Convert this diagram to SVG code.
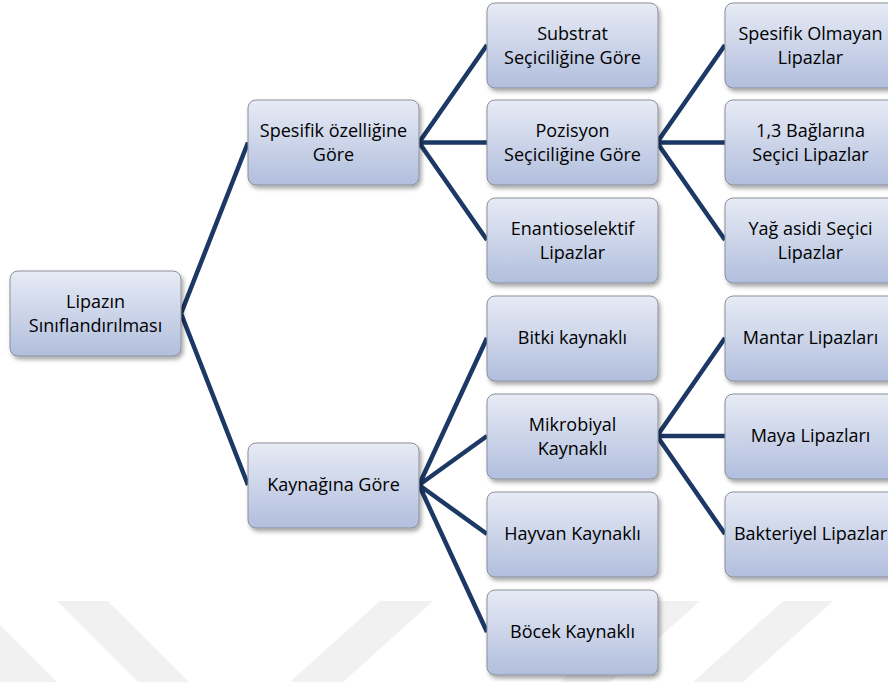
<svg xmlns="http://www.w3.org/2000/svg" width="888" height="682" viewBox="0 0 888 682">
  <defs>
    <linearGradient id="g" x1="0" y1="0" x2="0" y2="1">
      <stop offset="0" stop-color="#E7EBF5"/>
      <stop offset="1" stop-color="#B1BEDD"/>
    </linearGradient>
    <filter id="sh" x="-10%" y="-10%" width="130%" height="130%">
      <feDropShadow dx="2" dy="3" stdDeviation="2" flood-color="#000" flood-opacity="0.35"/>
    </filter>
  </defs>
  <style>
    .box { fill: url(#g); stroke: #8A8F99; stroke-width: 1; filter: url(#sh); }
    .t { font-family: "Open Sans", "Liberation Sans", sans-serif; font-size: 18px; fill: #000; text-anchor: middle; }
    .c { stroke: #1C3864; stroke-width: 4.5; fill: none; stroke-linecap: butt; stroke-linejoin: miter; }
    .wm { fill: #F1F1F1; }
  </style>
  <rect x="0" y="0" width="888" height="682" fill="#fff"/>
  <g id="watermark">
    <polygon class="wm" points="-80,601 -24,601 57,682 0,682"/>
    <polygon class="wm" points="57,601 108,601 189,682 138,682"/>
    <polygon class="wm" points="380,601 433,601 343,682 290,682"/>
    <polygon class="wm" points="650,601 700,601 610,682 560,682"/>
    <polygon class="wm" points="783,601 833,601 743,682 693,682"/>
  </g>
  <g id="connectors">
    <polyline class="c" points="248,142.5 181,313.5 248,485"/>
    <path class="c" d="M487,45 L419,142.5 L487,142.5 M419,142.5 L487,240"/>
    <path class="c" d="M487,338 L419,485 L487,436 M419,485 L487,534 M419,485 L487,632"/>
    <path class="c" d="M725,45 L657,142.5 L725,142.5 M657,142.5 L725,240"/>
    <path class="c" d="M725,338 L657,436 L725,436 M657,436 L725,534"/>
  </g>
  <g id="root">
    <rect class="box" x="10" y="271" width="171" height="85" rx="8"/>
    <text class="t" x="95.5" y="308">Lipazın</text>
    <text class="t" x="95.5" y="332">Sınıflandırılması</text>
  </g>
  <g id="spesifik">
    <rect class="box" x="248" y="100" width="171" height="85" rx="8"/>
    <text class="t" x="333.5" y="137">Spesifik özelliğine</text>
    <text class="t" x="333.5" y="161">Göre</text>
  </g>
  <g id="kaynagina">
    <rect class="box" x="248" y="443" width="171" height="85" rx="8"/>
    <text class="t" x="333.5" y="491">Kaynağına Göre</text>
  </g>
  <g id="substrat">
    <rect class="box" x="487" y="3" width="171" height="85" rx="8"/>
    <text class="t" x="572.5" y="40">Substrat</text>
    <text class="t" x="572.5" y="64">Seçiciliğine Göre</text>
  </g>
  <g id="pozisyon">
    <rect class="box" x="487" y="100" width="171" height="85" rx="8"/>
    <text class="t" x="572.5" y="137">Pozisyon</text>
    <text class="t" x="572.5" y="161">Seçiciliğine Göre</text>
  </g>
  <g id="enantio">
    <rect class="box" x="487" y="198" width="171" height="85" rx="8"/>
    <text class="t" x="572.5" y="235">Enantioselektif</text>
    <text class="t" x="572.5" y="259">Lipazlar</text>
  </g>
  <g id="bitki">
    <rect class="box" x="487" y="296" width="171" height="85" rx="8"/>
    <text class="t" x="572.5" y="344">Bitki kaynaklı</text>
  </g>
  <g id="mikrobiyal">
    <rect class="box" x="487" y="394" width="171" height="85" rx="8"/>
    <text class="t" x="572.5" y="431">Mikrobiyal</text>
    <text class="t" x="572.5" y="455">Kaynaklı</text>
  </g>
  <g id="hayvan">
    <rect class="box" x="487" y="492" width="171" height="85" rx="8"/>
    <text class="t" x="572.5" y="540">Hayvan Kaynaklı</text>
  </g>
  <g id="bocek">
    <rect class="box" x="487" y="590" width="171" height="85" rx="8"/>
    <text class="t" x="572.5" y="638">Böcek Kaynaklı</text>
  </g>
  <g id="spesifik-olmayan">
    <rect class="box" x="725" y="3" width="171" height="85" rx="8"/>
    <text class="t" x="810.5" y="40">Spesifik Olmayan</text>
    <text class="t" x="810.5" y="64">Lipazlar</text>
  </g>
  <g id="bag13">
    <rect class="box" x="725" y="100" width="171" height="85" rx="8"/>
    <text class="t" x="810.5" y="137">1,3 Bağlarına</text>
    <text class="t" x="810.5" y="161">Seçici Lipazlar</text>
  </g>
  <g id="yag-asidi">
    <rect class="box" x="725" y="198" width="171" height="85" rx="8"/>
    <text class="t" x="810.5" y="235">Yağ asidi Seçici</text>
    <text class="t" x="810.5" y="259">Lipazlar</text>
  </g>
  <g id="mantar">
    <rect class="box" x="725" y="296" width="171" height="85" rx="8"/>
    <text class="t" x="810.5" y="344">Mantar Lipazları</text>
  </g>
  <g id="maya">
    <rect class="box" x="725" y="394" width="171" height="85" rx="8"/>
    <text class="t" x="810.5" y="442">Maya Lipazları</text>
  </g>
  <g id="bakteriyel">
    <rect class="box" x="725" y="492" width="171" height="85" rx="8"/>
    <text class="t" x="810.5" y="540">Bakteriyel Lipazlar</text>
  </g>
</svg>
